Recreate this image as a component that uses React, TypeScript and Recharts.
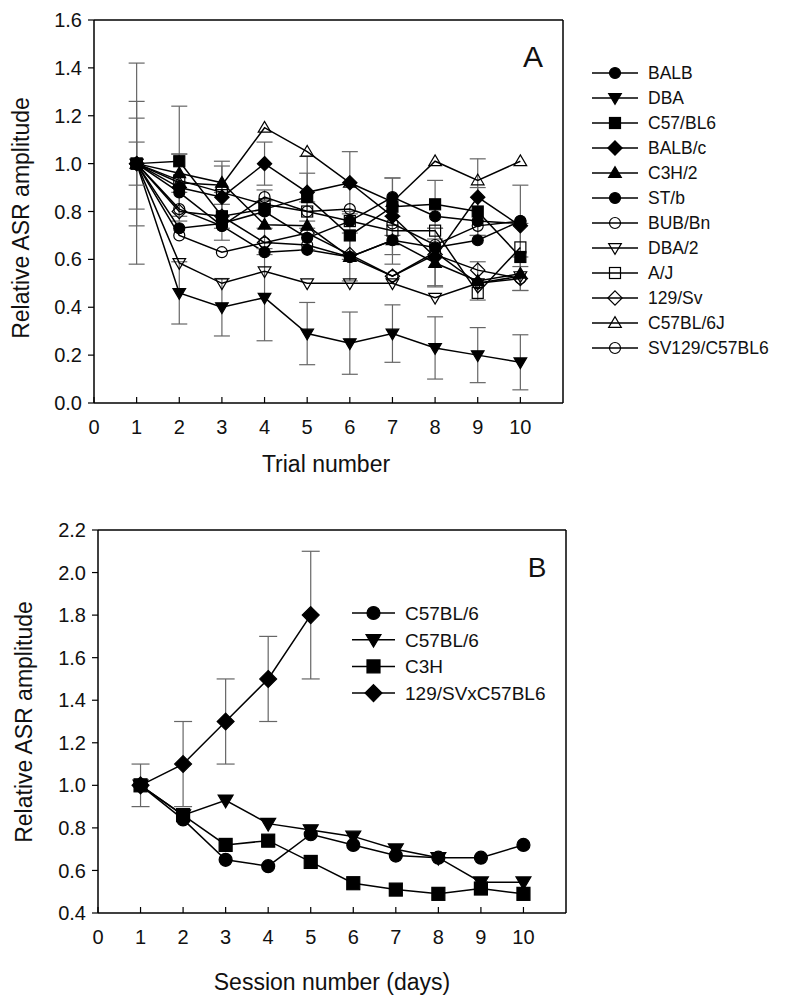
import React from 'react';
import { LineChart, Line, XAxis, YAxis, ErrorBar, ReferenceLine, Legend } from 'recharts';

// ---------- Panel A data ----------
const trials = [1, 2, 3, 4, 5, 6, 7, 8, 9, 10];
const balb = [1.0, 0.88, 0.74, 0.63, 0.64, 0.61, 0.68, 0.65, 0.68, 0.76];
const dba = [1.0, 0.46, 0.40, 0.44, 0.29, 0.25, 0.29, 0.23, 0.20, 0.17];
const dbaErr = [0.42, 0.13, 0.12, 0.18, 0.13, 0.13, 0.12, 0.13, 0.115, 0.115];
const c57bl6 = [1.0, 1.01, 0.78, 0.81, 0.86, 0.70, 0.82, 0.83, 0.80, 0.61];
const c57bl6Err = [0.19, 0.23, 0.10, 0.08, 0.10, 0.10, 0.12, 0.10, 0.10, 0.14];
const balbc = [1.0, 0.90, 0.86, 1.0, 0.88, 0.92, 0.78, 0.61, 0.86, 0.74];
const balbcErr = [0.26, 0.14, 0.13, 0.09, 0.15, 0.13, 0.16, 0.12, 0.16, 0.17];
const c3h2 = [1.0, 0.96, 0.92, 0.745, 0.74, 0.61, 0.68, 0.585, 0.51, 0.54];
const c3h2Err = [0.09, 0.08, 0.09, 0.10, 0.10, 0.10, 0.10, 0.10, 0.08, 0.07];
const stb = [1.0, 0.73, 0.75, 0.80, 0.69, 0.76, 0.86, 0.78, 0.76, 0.75];
const bubbn = [1.0, 0.81, 0.74, 0.86, 0.80, 0.81, 0.75, 0.66, 0.74, 0.76];
const dba2 = [1.0, 0.585, 0.50, 0.55, 0.50, 0.50, 0.50, 0.44, 0.50, 0.53];
const aj = [1.0, 0.93, 0.88, 0.83, 0.80, 0.76, 0.72, 0.72, 0.46, 0.65];
const sv129 = [1.0, 0.80, 0.78, 0.67, 0.71, 0.62, 0.53, 0.62, 0.555, 0.52];
const c57bl6j = [1.0, 0.92, 0.91, 1.15, 1.05, 0.92, 0.84, 1.01, 0.93, 1.01];
const sv129c57 = [1.0, 0.70, 0.63, 0.67, 0.66, 0.61, 0.53, 0.63, 0.50, 0.52];
const xTicksA = [0, 1, 2, 3, 4, 5, 6, 7, 8, 9, 10];
const yTicksA = [0, 0.2, 0.4, 0.6, 0.8, 1.0, 1.2, 1.4, 1.6];

// ---------- Panel B data ----------
const sessions = [1, 2, 3, 4, 5, 6, 7, 8, 9, 10];
const bC57a = [1.0, 0.84, 0.65, 0.62, 0.77, 0.72, 0.67, 0.66, 0.66, 0.72];
const bC57b = [1.0, 0.86, 0.93, 0.82, 0.79, 0.76, 0.70, 0.66, 0.545, 0.545];
const bC3H = [1.0, 0.86, 0.72, 0.74, 0.64, 0.54, 0.51, 0.49, 0.515, 0.49];
const bSvx = [1.0, 1.1, 1.3, 1.5, 1.8, null, null, null, null, null];
const bSvxErr = [0.1, 0.2, 0.2, 0.2, 0.3, null, null, null, null, null];
const xTicksB = [0, 1, 2, 3, 4, 5, 6, 7, 8, 9, 10];
const yTicksB = [0.4, 0.6, 0.8, 1.0, 1.2, 1.4, 1.6, 1.8, 2.0, 2.2];

type Shape = 'circle' | 'triDown' | 'square' | 'diamond' | 'triUp';

const seriesA: { key: string; name: string; values: number[]; err?: number[]; shape: Shape; filled: boolean }[] = [
  { key: 'balb', name: 'BALB', values: balb, shape: 'circle', filled: true },
  { key: 'dba', name: 'DBA', values: dba, err: dbaErr, shape: 'triDown', filled: true },
  { key: 'c57bl6', name: 'C57/BL6', values: c57bl6, err: c57bl6Err, shape: 'square', filled: true },
  { key: 'balbc', name: 'BALB/c', values: balbc, err: balbcErr, shape: 'diamond', filled: true },
  { key: 'c3h2', name: 'C3H/2', values: c3h2, err: c3h2Err, shape: 'triUp', filled: true },
  { key: 'stb', name: 'ST/b', values: stb, shape: 'circle', filled: true },
  { key: 'bubbn', name: 'BUB/Bn', values: bubbn, shape: 'circle', filled: false },
  { key: 'dba2', name: 'DBA/2', values: dba2, shape: 'triDown', filled: false },
  { key: 'aj', name: 'A/J', values: aj, shape: 'square', filled: false },
  { key: 'sv129', name: '129/Sv', values: sv129, shape: 'diamond', filled: false },
  { key: 'c57bl6j', name: 'C57BL/6J', values: c57bl6j, shape: 'triUp', filled: false },
  { key: 'sv129c57', name: 'SV129/C57BL6', values: sv129c57, shape: 'circle', filled: false },
];

const seriesB: { key: string; name: string; values: (number | null)[]; err?: (number | null)[]; shape: Shape; filled: boolean }[] = [
  { key: 'bC57a', name: 'C57BL/6', values: bC57a, shape: 'circle', filled: true },
  { key: 'bC57b', name: 'C57BL/6', values: bC57b, shape: 'triDown', filled: true },
  { key: 'bC3H', name: 'C3H', values: bC3H, shape: 'square', filled: true },
  { key: 'bSvx', name: '129/SVxC57BL6', values: bSvx, err: bSvxErr, shape: 'diamond', filled: true },
];

const dataA = trials.map((t, i) => {
  const row: any = { x: t };
  seriesA.forEach((s) => {
    row[s.key] = s.values[i];
    if (s.err) row[s.key + 'Err'] = s.err[i];
  });
  return row;
});

const dataB = sessions.map((t, i) => {
  const row: any = { x: t };
  seriesB.forEach((s) => {
    row[s.key] = s.values[i];
    if (s.err) row[s.key + 'Err'] = s.err[i];
  });
  return row;
});

const FONT = '"Liberation Sans", Arial, sans-serif';

function Marker({ shape, filled, cx, cy, size }: { shape: Shape; filled: boolean; cx: number; cy: number; size: number }) {
  const fill = filled ? '#000' : 'none';
  const sw = 1.2;
  const s = size;
  switch (shape) {
    case 'circle':
      return <circle cx={cx} cy={cy} r={s} fill={fill} stroke="#000" strokeWidth={sw} />;
    case 'square':
      return <rect x={cx - s} y={cy - s} width={2 * s} height={2 * s} fill={fill} stroke="#000" strokeWidth={sw} />;
    case 'diamond': {
      const d = s * 1.3;
      return <polygon points={`${cx},${cy - d} ${cx + d},${cy} ${cx},${cy + d} ${cx - d},${cy}`} fill={fill} stroke="#000" strokeWidth={sw} />;
    }
    case 'triDown': {
      const w = s * 1.15;
      return <polygon points={`${cx - w},${cy - s * 0.8} ${cx + w},${cy - s * 0.8} ${cx},${cy + s * 1.15}`} fill={fill} stroke="#000" strokeWidth={sw} />;
    }
    case 'triUp': {
      const w = s * 1.15;
      return <polygon points={`${cx - w},${cy + s * 0.8} ${cx + w},${cy + s * 0.8} ${cx},${cy - s * 1.15}`} fill={fill} stroke="#000" strokeWidth={sw} />;
    }
  }
  return null;
}

const makeDot = (key: string, shape: Shape, filled: boolean, size: number) => (props: any) => {
  const { cx, cy, index, value } = props;
  if (cx == null || cy == null || value == null || Number.isNaN(cy)) return <g key={`${key}-${index}`} />;
  return <g key={`${key}-${index}`}><Marker shape={shape} filled={filled} cx={cx} cy={cy} size={size} /></g>;
};

const XTick = (props: any) => {
  const { x, y, payload } = props;
  const m = 17;
  return (
    <g>
      <line x1={x} x2={x} y1={y - m} y2={y - m - 6} stroke="#000" strokeWidth={1.2} />
      <text x={x} y={y} dy="0.71em" textAnchor="middle" fill="#111" fontSize={20} fontFamily={FONT}>
        {payload.value}
      </text>
    </g>
  );
};

const makeLegend = (series: { key: string; name: string; shape: Shape; filled: boolean }[], rowH: number, fontSize: number, lineW: number, size: number) => () => (
  <svg width={230} height={series.length * rowH + 10} style={{ display: 'block' }}>
    {series.map((s, i) => {
      const cy = 13 + i * rowH;
      return (
        <g key={s.key}>
          <line x1={2} x2={2 + lineW} y1={cy} y2={cy} stroke="#000" strokeWidth={1.5} />
          <Marker shape={s.shape} filled={s.filled} cx={2 + lineW / 2} cy={cy} size={size} />
          <text x={lineW + 12} y={cy} dy="0.36em" fontSize={fontSize} fontFamily={FONT} fill="#111">
            {s.name}
          </text>
        </g>
      );
    })}
  </svg>
);

const tickStyle = { fill: '#111', fontSize: 20, fontFamily: FONT };

export default function App() {
  return (
    <div style={{ position: 'absolute', left: 0, top: 0, width: 793, height: 1005, background: '#fff' }}>
      {/* Panel A */}
      <div style={{ position: 'absolute', left: 0, top: 0 }}>
        <LineChart width={793} height={480} data={dataA} margin={{ top: 20, right: 230, bottom: 47, left: 34 }}>
          <XAxis
            dataKey="x"
            type="number"
            domain={[0, 11]}
            ticks={xTicksA}
            tickSize={0}
            tickMargin={17}
            tickLine={false}
            tick={<XTick />}
            axisLine={{ stroke: '#000', strokeWidth: 1.5 }}
            height={30}
            interval={0}
            label={() => (
              <text x={326} y={472} textAnchor="middle" fontSize={23} fontFamily={FONT} fill="#111">
                Trial number
              </text>
            )}
          />
          <YAxis
            type="number"
            domain={[0, 1.6]}
            ticks={yTicksA}
            tickFormatter={(v: number) => v.toFixed(1)}
            tick={tickStyle}
            tickSize={6}
            tickMargin={6}
            tickLine={{ stroke: '#000', strokeWidth: 1.2 }}
            axisLine={{ stroke: '#000', strokeWidth: 1.5 }}
            width={60}
            interval={0}
            label={() => (
              <g>
                <text transform="translate(29, 218) rotate(-90)" textAnchor="middle" fontSize={23} fontFamily={FONT} fill="#111">
                  Relative ASR amplitude
                </text>
                <text x={533} y={67} textAnchor="middle" fontSize={30} fontFamily={FONT} fill="#111">
                  A
                </text>
              </g>
            )}
          />
          <ReferenceLine y={1.6} stroke="#000" strokeWidth={1.5} />
          <ReferenceLine x={11} stroke="#000" strokeWidth={1.5} />
          {seriesA.map((s) => (
            <Line
              key={s.key}
              dataKey={s.key}
              name={s.name}
              stroke="#000"
              strokeWidth={1.5}
              isAnimationActive={false}
              dot={makeDot(s.key, s.shape, s.filled, 5.5)}
              activeDot={false}
            >
              {s.err ? <ErrorBar dataKey={s.key + 'Err'} width={8} stroke="#666" strokeWidth={1.2} direction="y" isAnimationActive={false} /> : null}
            </Line>
          ))}
          <Legend
            layout="vertical"
            align="center"
            verticalAlign="middle"
            wrapperStyle={{ left: 590, top: 60, width: 210 }}
            content={makeLegend(seriesA, 25, 17.5, 46, 5.5)}
          />
        </LineChart>
      </div>

      {/* Panel B */}
      <div style={{ position: 'absolute', left: 0, top: 500 }}>
        <LineChart width={793} height={505} data={dataB} margin={{ top: 30, right: 227, bottom: 62, left: 38 }}>
          <XAxis
            dataKey="x"
            type="number"
            domain={[0, 11]}
            ticks={xTicksB}
            tickSize={0}
            tickMargin={17}
            tickLine={false}
            tick={<XTick />}
            axisLine={{ stroke: '#000', strokeWidth: 1.5 }}
            height={30}
            interval={0}
            label={() => (
              <text x={332} y={490} textAnchor="middle" fontSize={23} fontFamily={FONT} fill="#111">
                Session number (days)
              </text>
            )}
          />
          <YAxis
            type="number"
            domain={[0.4, 2.2]}
            ticks={yTicksB}
            tickFormatter={(v: number) => v.toFixed(1)}
            tick={tickStyle}
            tickSize={6}
            tickMargin={6}
            tickLine={{ stroke: '#000', strokeWidth: 1.2 }}
            axisLine={{ stroke: '#000', strokeWidth: 1.5 }}
            width={60}
            interval={0}
            label={() => (
              <g>
                <text transform="translate(32, 222) rotate(-90)" textAnchor="middle" fontSize={23} fontFamily={FONT} fill="#111">
                  Relative ASR amplitude
                </text>
                <text x={537} y={77} textAnchor="middle" fontSize={28} fontFamily={FONT} fill="#111">
                  B
                </text>
              </g>
            )}
          />
          <ReferenceLine y={2.2} stroke="#000" strokeWidth={1.5} />
          <ReferenceLine x={11} stroke="#000" strokeWidth={1.5} />
          {seriesB.map((s) => (
            <Line
              key={s.key}
              dataKey={s.key}
              name={s.name}
              stroke="#000"
              strokeWidth={1.5}
              isAnimationActive={false}
              dot={makeDot(s.key, s.shape, s.filled, 6.5)}
              activeDot={false}
            >
              {s.err ? <ErrorBar dataKey={s.key + 'Err'} width={9} stroke="#666" strokeWidth={1.2} direction="y" isAnimationActive={false} /> : null}
            </Line>
          ))}
          <Legend
            layout="vertical"
            align="center"
            verticalAlign="middle"
            wrapperStyle={{ left: 350, top: 100, width: 230 }}
            content={makeLegend(seriesB, 26.7, 19, 43, 6.5)}
          />
        </LineChart>
      </div>
    </div>
  );
}
